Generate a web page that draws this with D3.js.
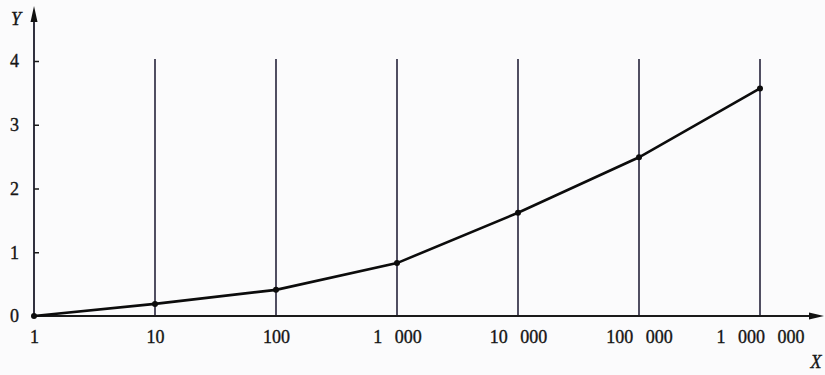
<!DOCTYPE html>
<html><head><meta charset="utf-8">
<script src="https://cdn.jsdelivr.net/npm/d3@7"></script>
<style>
html,body{margin:0;padding:0;background:#fbfbfc;}
svg{display:block;}
text{font-family:"Liberation Serif","DejaVu Serif",serif;fill:#151515;stroke:#151515;stroke-width:0.35px;}
</style></head>
<body>
<svg id="c" width="825" height="375"></svg>
<script>
const xValues = [1, 10, 100, 1000, 10000, 100000, 1000000];
const yValues = [0, 0.19, 0.41, 0.83, 1.62, 2.49, 3.57];
const xTickLabels = ["1", "10", "100", "1\u2002\u2009000", "10\u2002\u2009000", "100\u2002\u2009000", "1\u2002\u2009000\u2002\u2009000"];
const yTicks = [0, 1, 2, 3, 4];
const gridTop = 4;

const svg = d3.select("#c");
const x = d3.scaleLog().domain([1, 1e6]).range([34, 760]);
const y = d3.scaleLinear().domain([0, 4]).range([316, 61]);

// vertical reference lines
svg.append("g").selectAll("line").data(xValues.slice(1)).join("line")
  .attr("x1", d => x(d)).attr("x2", d => x(d))
  .attr("y1", y(0)).attr("y2", y(gridTop) - 2)
  .attr("stroke", "#26243a").attr("stroke-width", 1.6);

// axes lines
svg.append("line").attr("x1", x(1)).attr("x2", x(1)).attr("y1", y(0)).attr("y2", 18)
  .attr("stroke", "#1a1a2a").attr("stroke-width", 1.8);
svg.append("line").attr("x1", x(1) - 2).attr("x2", 812).attr("y1", y(0)).attr("y2", y(0))
  .attr("stroke", "#1a1a1a").attr("stroke-width", 1.8);
// arrow heads
svg.append("path").attr("d", `M${x(1)},6 L${x(1)-3.5},22 L${x(1)+3.5},22 Z`).attr("fill", "#111");
svg.append("path").attr("d", `M824,${y(0)} L809,${y(0)-3.5} L809,${y(0)+3.5} Z`).attr("fill", "#111");

// y axis ticks and labels
const yAxis = d3.axisLeft(y).tickValues(yTicks).tickSize(-5).tickPadding(15).tickFormat(d3.format("d"));
const gy = svg.append("g").attr("transform", `translate(${x(1)},0)`).call(yAxis);
gy.select(".domain").remove();
gy.selectAll(".tick line").attr("stroke", "#1a1a1a").attr("stroke-width", 1.5)
  .filter(d => d === 0).remove();
gy.selectAll("text").attr("font-size", 18);

// x axis labels
const xAxis = d3.axisBottom(x).tickValues(xValues).tickSize(0).tickPadding(14)
  .tickFormat((d, i) => xTickLabels[i]);
const gx = svg.append("g").attr("transform", `translate(0,${y(0)})`).call(xAxis);
gx.select(".domain").remove();
gx.selectAll("text").attr("font-size", 18);

// axis names
svg.append("text").attr("x", 16).attr("y", 25).attr("text-anchor", "middle")
  .attr("font-size", 18).attr("font-style", "italic").text("Y");
svg.append("text").attr("x", 816).attr("y", 368).attr("text-anchor", "middle")
  .attr("font-size", 18).attr("font-style", "italic").text("X");

// data line
const pts = xValues.map((d, i) => [d, yValues[i]]);
svg.append("path").datum(pts)
  .attr("d", d3.line().x(d => x(d[0])).y(d => y(d[1])))
  .attr("fill", "none").attr("stroke", "#0c0c0c").attr("stroke-width", 2.6);
svg.append("g").selectAll("circle").data(pts).join("circle")
  .attr("cx", d => x(d[0])).attr("cy", d => y(d[1])).attr("r", 3)
  .attr("fill", "#0c0c0c");
</script>
</body></html>
